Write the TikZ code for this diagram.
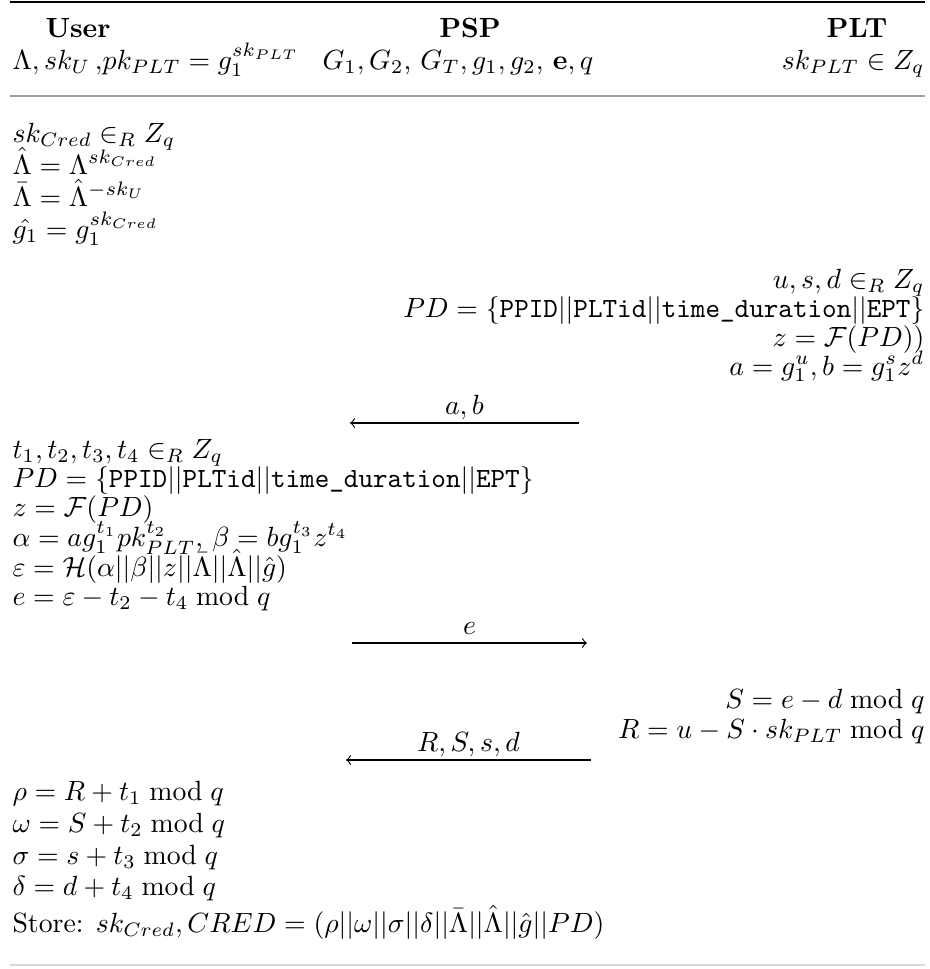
\documentclass[tikz,border=0pt]{standalone}
\begin{document}
\begin{tikzpicture}[x=0.36pt,y=-0.36pt,
  lcol/.style={anchor=base west,inner sep=0pt},
  rcol/.style={anchor=base east,inner sep=0pt},
  party/.style={anchor=base,inner sep=0pt,font=\bfseries},
  msg/.style={line width=0.4pt,-to},
  msglabel/.style={above=0pt,inner sep=1pt,text depth=2pt}]
  \useasboundingbox (0,0) rectangle (930,969);
  \draw[line width=0.5pt] (10,2) -- (925,2);
  \node[party] (user) at (78,37) {User};
  \node[party] (psp) at (470,37) {PSP};
  \node[party] (plt) at (857,37) {PLT};
  \node[lcol] (ukeys) at (12,69) {$\Lambda, sk_U\,{,}pk_{PLT} = g_1^{sk_{PLT}}$};
  \node[lcol] (pspkeys) at (322,69) {$G_1,G_2$, $G_T, g_1, g_2$, $\mathbf{e}, q$};
  \node[rcol] (pltkeys) at (925,69) {$sk_{PLT} \in Z_q$};
  \draw[gray!75,line width=0.8pt] (10,96) -- (925,96);
  \node[lcol] (u1) at (12,142) {$sk_{Cred} \in_R Z_q$};
  \node[lcol] (u2) at (12,174) {$\hat{\Lambda} = \Lambda^{sk_{Cred}}$};
  \node[lcol] (u3) at (12,206) {$\bar{\Lambda} = \hat{\Lambda}^{-sk_U}$};
  \node[lcol] (u4) at (12,238) {$\hat{g_1} = g_1^{sk_{Cred}}$};
  \node[rcol] (p1) at (925,288) {$u, s, d \in_R Z_q$};
  \node[rcol] (p2) at (925,317) {$PD = \{\texttt{PPID}||\texttt{PLTid}||\texttt{time\_duration}||\texttt{EPT}\}$};
  \node[rcol] (p3) at (925,346) {$z = \mathcal{F}(PD))$};
  \node[rcol] (p4) at (925,375) {$a = g_1^u, b = g_1^s z^d$};
  \coordinate (abR) at (579,423);
  \coordinate (abL) at (350,423);
  \draw[msg] (abR) -- node[msglabel] (ab) {$a, b$} (abL);
  \node[lcol] (u5) at (12,458) {$t_1, t_2, t_3, t_4 \in_R Z_q$};
  \node[lcol] (u6) at (12,487) {$PD = \{\texttt{PPID}||\texttt{PLTid}||\texttt{time\_duration}||\texttt{EPT}\}$};
  \node[lcol] (u7) at (12,516) {$z = \mathcal{F}(PD)$};
  \node[lcol] (u8) at (12,546) {$\alpha = ag_1^{t_1}pk_{PLT}^{t_2}$, $\beta = bg_1^{t_3}z^{t_4}$};
  \node[lcol] (u9) at (12,576) {$\varepsilon = \mathcal{H}(\alpha||\beta||z||\bar{\Lambda}||\hat{\Lambda}||\hat{g})$};
  \node[lcol] (u10) at (12,605) {$e = \varepsilon - t_2 - t_4 \bmod q$};
  \coordinate (eL) at (352,643);
  \coordinate (eR) at (587,643);
  \draw[msg] (eL) -- node[msglabel] (elab) {$e$} (eR);
  \node[rcol] (p5) at (925,708) {$S = e - d \bmod q$};
  \node[rcol] (p6) at (925,738) {$R = u - S \cdot sk_{PLT} \bmod q$};
  \coordinate (rsR) at (591,760);
  \coordinate (rsL) at (346,760);
  \draw[msg] (rsR) -- node[msglabel] (rs) {$R, S, s, d$} (rsL);
  \node[lcol] (u11) at (12,800) {$\rho = R + t_1 \bmod q$};
  \node[lcol] (u12) at (12,832) {$\omega = S + t_2 \bmod q$};
  \node[lcol] (u13) at (12,864) {$\sigma = s + t_3 \bmod q$};
  \node[lcol] (u14) at (12,895) {$\delta = d + t_4 \bmod q$};
  \node[lcol] (store) at (12,932) {Store: $sk_{Cred}, CRED = (\rho||\omega||\sigma||\delta||\bar{\Lambda}||\hat{\Lambda}||\hat{g}||PD)$};
  \draw[gray!30,line width=0.5pt] (10,965) -- (925,965);
\end{tikzpicture}
\end{document}
